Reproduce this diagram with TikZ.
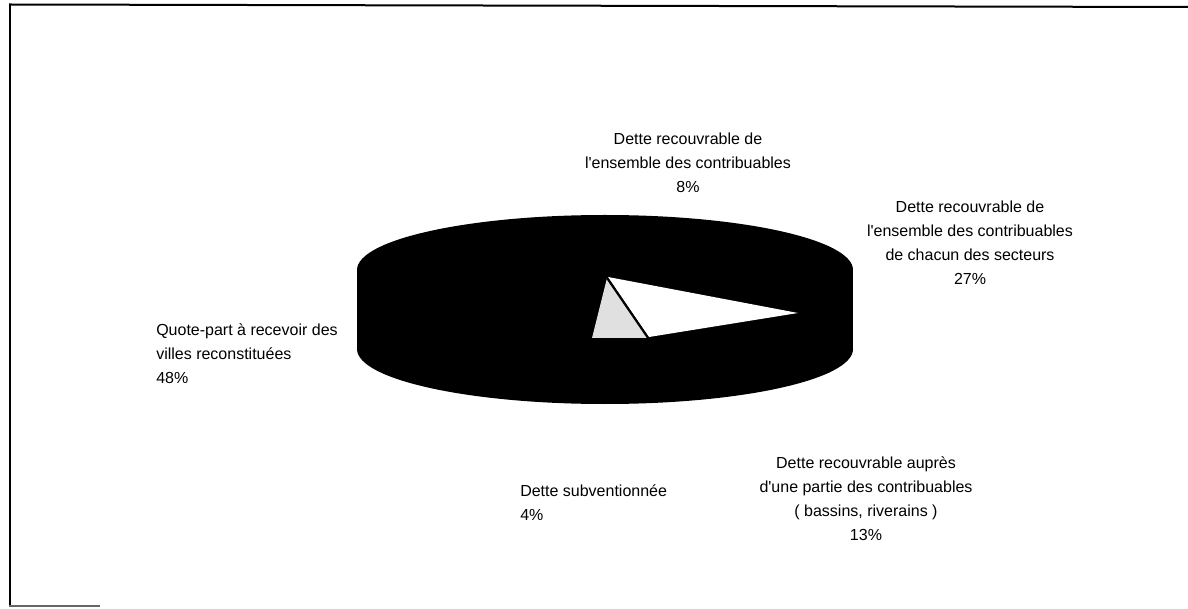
\documentclass[tikz,border=0pt]{standalone}
\usepackage{fontspec}
\setmainfont{Liberation Sans}
\usepackage{tikz}

\begin{document}
\begin{tikzpicture} [x=0.75pt, y=-0.75pt,
    lbl/.style = {font=\fontsize{12}{18}\selectfont, inner sep=0pt},
    lblc/.style = {lbl, align=center},
    lbll/.style = {lbl, align=left, anchor=west}]

        \useasboundingbox (0,0) rectangle (1188,609);

        % frame
        \draw [line width=1.5pt] (9,4.5) -- (1188,7);
        \draw [line width=1.5pt] (9.5,4.5) -- (9.5,606);
        \draw [line width=0.8pt, black!60] (9,606) -- (100,606);

        % pie
        \fill (605,349) ellipse [x radius=248, y radius=55];
        \fill (357,270) rectangle (853,349);
        \fill (605,270) ellipse [x radius=248, y radius=55];
        \fill [black!12] (607,278) -- (592,338) -- (648,338) -- cycle;
        \fill [white] (608,277) -- (798,313) -- (649,337) -- cycle;
        \draw [line width=1.5pt] (607,278) -- (648,338);

        \node (rec) [lblc] at (688,163)
        {Dette recouvrable de\\l\textquotesingle ensemble des contribuables\\8\%};
        \node (sect) [lblc] at (970,243)
        {Dette recouvrable de\\l\textquotesingle ensemble des contribuables\\de chacun des secteurs\\27\%};
        \node (quote) [lbll] at (156,354)
        {Quote-part à recevoir des\\villes reconstituées\\48\%};
        \node (part) [lblc] at (866,499)
        {Dette recouvrable auprès\\d\textquotesingle une partie des contribuables\\( bassins, riverains )\\13\%};
        \node (subv) [lbll] at (520,503) {Dette subventionnée\\4\%};

    \end{tikzpicture}
\end{document}
